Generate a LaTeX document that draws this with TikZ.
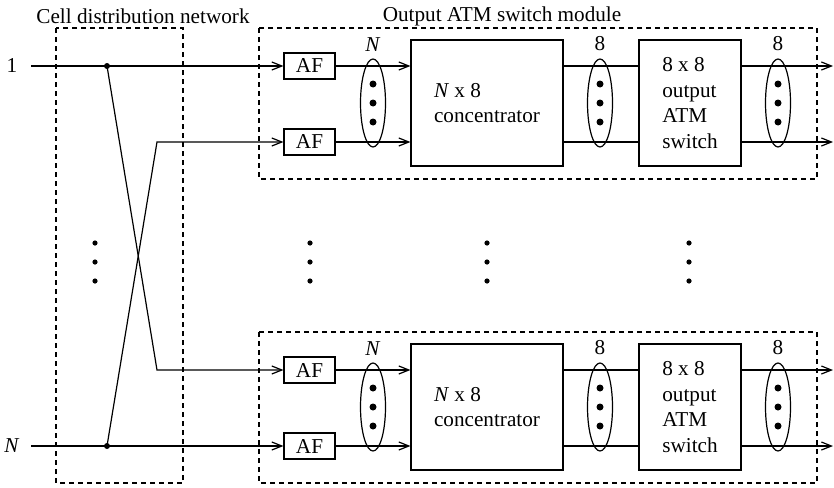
\documentclass[tikz,border=0pt]{standalone}
\usepackage{fontspec}
\setmainfont{Liberation Serif}
\usetikzlibrary{arrows.meta,shapes.geometric}

\begin{document}
\begin{tikzpicture}[x=0.5pt, y=-0.5pt, line width=0.6pt,
    font=\fontsize{10.6}{12.7}\selectfont,
    box/.style={draw, rectangle, inner sep=0pt, align=left},
    frame/.style={draw, dash pattern=on 2.5pt off 2pt},
    bundle/.style={draw, ellipse, minimum width=12.5pt, minimum height=44pt, inner sep=0pt, label distance=0.5pt},
    junc/.style={circle, fill=black, inner sep=0pt, minimum size=3pt},
    arr/.style={-{Straight Barb[length=5pt,width=4pt]}}]

\useasboundingbox (0,0) rectangle (834,487);

% cell distribution network
\draw[frame] (56,28) rectangle (183,483);
\node (cdn) at (143,16) {Cell distribution network};
\node (osm) at (502,16) {Output ATM switch module};

\node (in1) at (12,66) {1};
\node (inN) at (12,446) {\textit{N}};
\coordinate (w1) at (31,66);
\coordinate (wN) at (31,446);
\node[junc] (s1) at (107,66) {};
\node[junc] (sN) at (107,446) {};
\coordinate (k1) at (157,370);
\coordinate (kN) at (157,142);

% output ATM switch modules
\foreach \m/\oy in {t/0, b/304} {
    \pgfmathsetmacro{\ya}{66+\oy}
    \pgfmathsetmacro{\yb}{142+\oy}
    \pgfmathsetmacro{\yc}{103+\oy}
    \draw[frame] (259,{28+\oy}) rectangle (817,{179+\oy});
    \node[box, minimum width=25.5pt, minimum height=13pt] (af1\m) at (309.5,\ya) {AF};
    \node[box, minimum width=25.5pt, minimum height=13pt] (af2\m) at (309.5,\yb) {AF};
    \node[box, minimum width=76pt, minimum height=63pt] (conc\m) at (487,\yc) {\textit{N} x 8\\concentrator};
    \node[box, minimum width=51pt, minimum height=63pt] (sw\m) at (690,\yc) {8 x 8\\output\\ATM\\switch};
    \coordinate (o1\m) at (833,\ya);
    \coordinate (o2\m) at (833,\yb);
    \draw[arr] (af1\m.east) -- (af1\m.east -| conc\m.west);
    \draw[arr] (af2\m.east) -- (af2\m.east -| conc\m.west);
    \draw (conc\m.east |- af1\m.east) -- (sw\m.west |- af1\m.east);
    \draw (conc\m.east |- af2\m.east) -- (sw\m.west |- af2\m.east);
    \draw[arr] (sw\m.east |- o1\m) -- (o1\m);
    \draw[arr] (sw\m.east |- o2\m) -- (o2\m);
    \node[bundle, label=above:\textit{N}] (e1\m) at (373,\yc) {};
    \node[bundle, label=above:8] (e2\m) at (600,\yc) {};
    \node[bundle, label=above:8] (e3\m) at (778,\yc) {};
    \foreach \x in {373, 600, 778} {
        \foreach \d in {-19, 0, 19}
            \fill (\x,{\yc+\d}) circle (1.75pt);
    }
}

% wiring of the distribution network
\draw[arr] (w1) -- (s1.center) -- (af1t.west);
\draw[arr] (s1.center) -- (k1) -- (af1b.west);
\draw[arr] (wN) -- (sN.center) -- (af2b.west);
\draw[arr] (sN.center) -- (kN) -- (af2t.west);

% vertical ellipsis
\foreach \x in {95, 310, 487, 689}
    \foreach \y in {243, 262, 281}
        \fill (\x,\y) circle (1.3pt);
\end{tikzpicture}
\end{document}
